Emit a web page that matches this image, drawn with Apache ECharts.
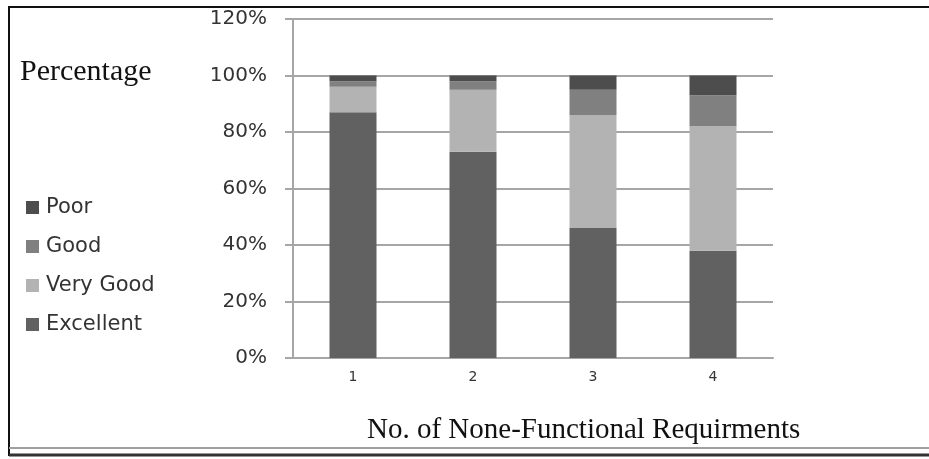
<!DOCTYPE html>
<html><head><meta charset="utf-8">
<script src="https://cdn.jsdelivr.net/npm/echarts@6/dist/echarts.min.js"></script>
<style>html,body{margin:0;padding:0;background:#fff}#c{width:929px;height:459px}</style>
</head><body><div id="c"></div>
<script>
const categories = ['1', '2', '3', '4'];
const excellent = [87, 73, 46, 38];
const veryGood = [9, 22, 40, 44];
const good = [2, 3, 9, 11];
const poor = [2, 2, 5, 7];
const yTicks = [0, 20, 40, 60, 80, 100, 120];

const chart = echarts.init(document.getElementById('c'));
const sansFont = 'DejaVu Sans';
function bar(name, data, color) {
  return { name, type: 'bar', stack: 'total', data, barWidth: 47,
    itemStyle: { color }, emphasis: { disabled: true } };
}
chart.setOption({
  animation: false,
  backgroundColor: '#fff',
  grid: { left: 293, right: 156, top: 19, bottom: 101, containLabel: false },
  legend: {
    orient: 'vertical', left: 21, top: 192, itemWidth: 13, itemHeight: 13, itemGap: 18,
    icon: 'rect',
    data: ['Poor', 'Good', 'Very Good', 'Excellent'],
    textStyle: { fontFamily: sansFont, fontSize: 21, color: '#333', padding: [0, 0, 0, 2] }
  },
  xAxis: {
    type: 'category', data: categories,
    axisLine: { lineStyle: { color: '#a6a6a6', width: 2 } },
    axisTick: { show: false },
    axisLabel: { fontFamily: sansFont, fontSize: 14, color: '#333', margin: 12 }
  },
  yAxis: {
    type: 'value', min: 0, max: 120, interval: 20,
    axisLine: { show: true, lineStyle: { color: '#a6a6a6', width: 2 } },
    axisTick: { show: true, length: 8, lineStyle: { color: '#a6a6a6', width: 2 } },
    splitLine: { lineStyle: { color: '#a6a6a6', width: 2 } },
    axisLabel: { fontFamily: sansFont, fontSize: 20, color: '#333', margin: 26,
      formatter: v => yTicks.includes(v) ? v + '%' : '' }
  },
  series: [
    bar('Excellent', excellent, '#616161'),
    bar('Very Good', veryGood, '#b3b3b3'),
    bar('Good', good, '#808080'),
    bar('Poor', poor, '#4d4d4d')
  ],
  graphic: [
    { type: 'text', left: 20, top: 57, style: { text: 'Percentage', font: '30px "Liberation Serif"', fill: '#111' } },
    { type: 'text', left: 367, top: 416, style: { text: 'No. of None-Functional Requirments', font: '29px "Liberation Serif"', fill: '#111' } },
    { type: 'line', shape: { x1: 8, y1: 7, x2: 929, y2: 7 }, style: { stroke: '#111', lineWidth: 2 } },
    { type: 'line', shape: { x1: 9, y1: 7, x2: 9, y2: 456 }, style: { stroke: '#111', lineWidth: 2 } },
    { type: 'line', shape: { x1: 9, y1: 448, x2: 929, y2: 448 }, style: { stroke: '#a0a0a0', lineWidth: 2 } },
    { type: 'line', shape: { x1: 9, y1: 455, x2: 929, y2: 455 }, style: { stroke: '#333', lineWidth: 3 } }
  ]
});
</script></body></html>
